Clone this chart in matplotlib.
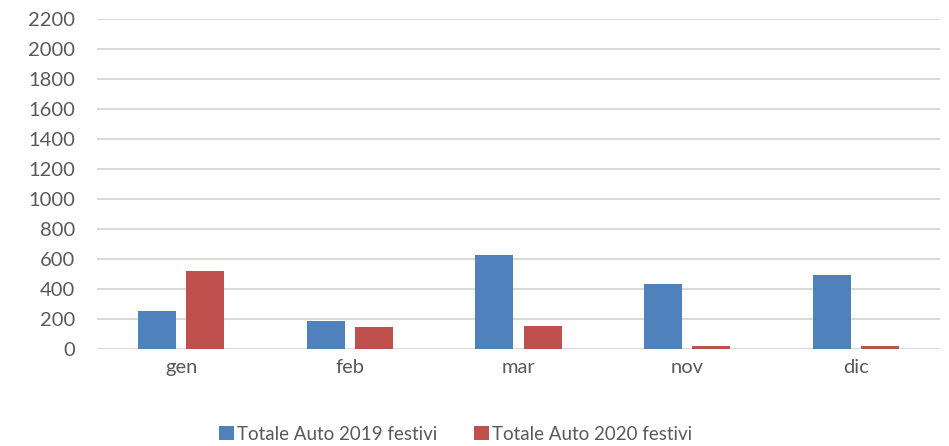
import numpy as np
import matplotlib.pyplot as plt

# Data
months = ['gen', 'feb', 'mar', 'nov', 'dic']
auto_2019 = [251, 187, 625, 431, 491]
auto_2020 = [522, 149, 151, 22, 20]
labels = ['Totale Auto 2019 festivi', 'Totale Auto 2020 festivi']

plt.rcParams['font.family'] = ['Lato', 'DejaVu Sans']

fig = plt.figure(figsize=(9.49, 4.46), dpi=100)
ax = fig.add_axes([97 / 949, 1 - 349 / 446, (940 - 97) / 949, (349 - 19) / 446])

x = np.arange(len(months))
w = 0.226
ax.bar(x - 0.143, auto_2019, w, color='#4f81bd', label=labels[0], zorder=3)
ax.bar(x + 0.143, auto_2020, w, color='#c0504d', label=labels[1], zorder=3)

ax.set_xlim(-0.5, len(months) - 0.5)
ax.set_ylim(0, 2200)
ax.set_yticks(np.arange(0, 2201, 200))
ax.set_xticks(x)
ax.set_xticklabels(months)
ax.yaxis.grid(True, color='#d9d9d9', linewidth=1.5, zorder=0)
for s in ax.spines.values():
    s.set_visible(False)
ax.tick_params(axis='both', length=0, labelsize=14.5, colors='#595959')
ax.tick_params(axis='y', pad=16)
ax.tick_params(axis='x', pad=7)

fig.legend(loc='lower center', bbox_to_anchor=(0.48, -0.03), ncol=2, frameon=False,
           fontsize=13.5, handlelength=0.8, handleheight=0.8, handletextpad=0.15,
           columnspacing=2, labelcolor='#595959')

fig.savefig('out.png')
